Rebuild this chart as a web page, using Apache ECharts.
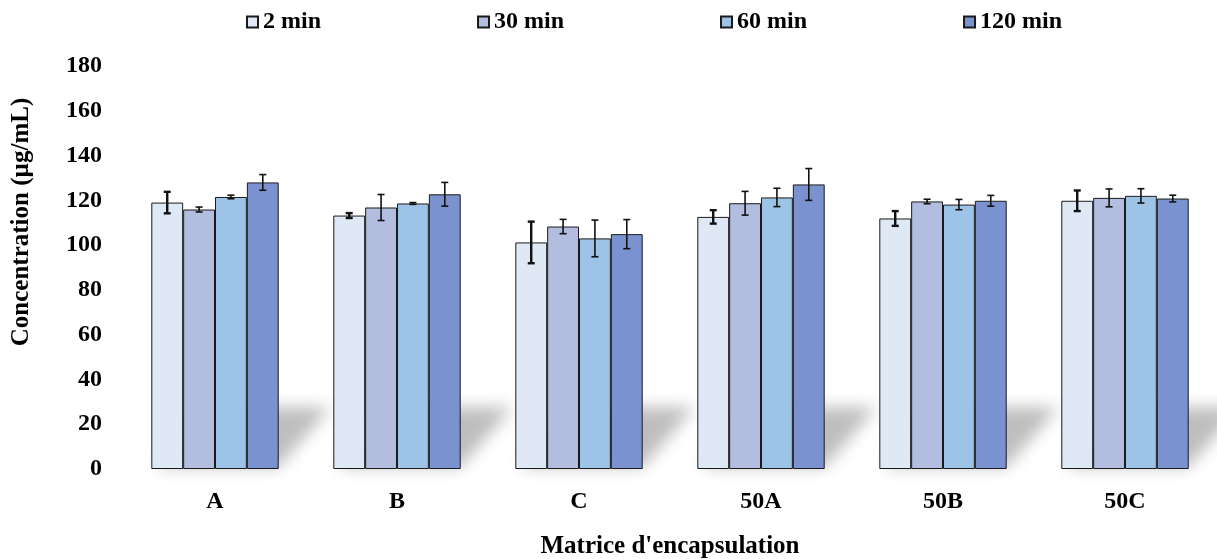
<!DOCTYPE html>
<html>
<head>
<meta charset="utf-8">
<script src="https://cdn.jsdelivr.net/npm/echarts@6/dist/echarts.min.js"></script>
<style>
html,body{margin:0;padding:0;background:#fff;}
#chart{width:1217px;height:559px;}
</style>
</head>
<body>
<div id="chart"></div>
<script>
var categories = ['A', 'B', 'C', '50A', '50B', '50C'];
var seriesNames = ['2 min', '30 min', '60 min', '120 min'];
var v2   = [119.0, 113.2, 101.2, 112.6, 111.9, 119.8];
var v30  = [115.9, 116.8, 108.3, 118.7, 119.5, 121.1];
var v60  = [121.5, 118.6, 103.0, 121.3, 118.1, 122.0];
var v120 = [128.0, 122.7, 104.9, 127.1, 119.8, 120.8];
var e2   = [4.8, 1.1, 9.3, 3.0, 3.3, 4.6];
var e30  = [1.1, 5.8, 3.2, 5.3, 1.0, 4.0];
var e60  = [0.8, 0.4, 8.2, 4.1, 2.3, 3.2];
var e120 = [3.5, 5.3, 6.5, 7.1, 2.4, 1.5];
var yTicks = [0, 20, 40, 60, 80, 100, 120, 140, 160, 180];

var values = [v2, v30, v60, v120];
var errors = [e2, e30, e60, e120];
var colors = ['#DEE9F5', '#B3BDDF', '#9DC3E6', '#7A92D0'];
var font = '"Liberation Serif", "Times New Roman", serif';
var GAP = 0.30;
var OFF = 3000;

var chart = echarts.init(document.getElementById('chart'));
var series = [];

// soft floor shadow behind each group (shape drawn off-canvas, only its blurred shadow is visible)
series.push({
  type: 'custom',
  silent: true,
  clip: false,
  z: 1,
  data: categories.map(function (c, i) { return [i, 0]; }),
  renderItem: function (params, api) {
    var base = api.coord([api.value(0), 0]);
    var band = api.size([1, 0])[0];
    var gw = band * (1 - GAP);
    var xL = base[0] - gw / 2 + 4, xR = base[0] + gw / 2, y = base[1] - 2;
    var dx = 52, h = 60;
    return {
      type: 'polygon',
      shape: { points: [[xL - OFF, y], [xR - OFF, y], [xR + dx - OFF, y - h], [xL + dx - OFF, y - h]] },
      style: {
        fill: '#000',
        shadowBlur: 16,
        shadowOffsetX: OFF,
        shadowColor: 'rgba(0,0,0,0.26)'
      }
    };
  }
});

seriesNames.forEach(function (name, si) {
  series.push({
    name: name,
    type: 'bar',
    z: 3,
    barGap: '0%',
    barCategoryGap: (GAP * 100) + '%',
    data: values[si],
    itemStyle: { color: colors[si], borderColor: '#1a1a1a', borderWidth: 1 }
  });
});

seriesNames.forEach(function (name, si) {
  series.push({
    type: 'custom',
    z: 5,
    silent: true,
    data: values[si].map(function (v, i) { return [i, v, errors[si][i]]; }),
    renderItem: function (params, api) {
      var i = api.value(0), v = api.value(1), e = api.value(2);
      var band = api.size([1, 0])[0];
      var gw = band * (1 - GAP);
      var bw = gw / 4;
      var c = api.coord([i, v]);
      var x = c[0] - gw / 2 + (si + 0.5) * bw;
      var yt = api.coord([i, v + e])[1];
      var yb = api.coord([i, v - e])[1];
      var cap = 3.5;
      var lw = si === 0 ? 2.4 : 1.6;
      var st = { stroke: '#111', lineWidth: lw };
      return {
        type: 'group',
        children: [
          { type: 'line', shape: { x1: x, y1: yt, x2: x, y2: yb }, style: st },
          { type: 'line', shape: { x1: x - cap, y1: yt, x2: x + cap, y2: yt }, style: st },
          { type: 'line', shape: { x1: x - cap, y1: yb, x2: x + cap, y2: yb }, style: st }
        ]
      };
    }
  });
});

chart.setOption({
  animation: false,
  backgroundColor: '#fff',
  legend: {
    data: seriesNames,
    left: 246,
    top: 10,
    padding: 0,
    itemWidth: 11,
    itemHeight: 11,
    itemGap: 156,
    icon: 'rect',
    textStyle: { fontFamily: font, fontWeight: 'bold', fontSize: 24, color: '#000' }
  },
  grid: { left: 124, right: 1, top: 66, bottom: 90, containLabel: false, outerBoundsMode: 'none' },
  xAxis: {
    type: 'category',
    data: categories,
    axisLine: { show: false },
    axisTick: { show: false },
    axisLabel: { margin: 21, fontFamily: font, fontWeight: 'bold', fontSize: 24, color: '#000' },
    name: "Matrice d'encapsulation",
    nameLocation: 'middle',
    nameGap: 65,
    nameTextStyle: { fontFamily: font, fontWeight: 'bold', fontSize: 25, color: '#000' }
  },
  yAxis: {
    type: 'value',
    min: yTicks[0],
    max: yTicks[yTicks.length - 1],
    interval: 20,
    axisLine: { show: false },
    axisTick: { show: false },
    splitLine: { show: false },
    axisLabel: { margin: 22, fontFamily: font, fontWeight: 'bold', fontSize: 24, color: '#000' }
  },
  graphic: [{
    type: 'text',
    x: 22,
    y: 222,
    rotation: Math.PI / 2,
    style: {
      text: 'Concentration (µg/mL)',
      font: 'bold 25px ' + font,
      fill: '#000',
      align: 'center',
      verticalAlign: 'middle'
    }
  }],
  series: series
});
</script>
</body>
</html>
